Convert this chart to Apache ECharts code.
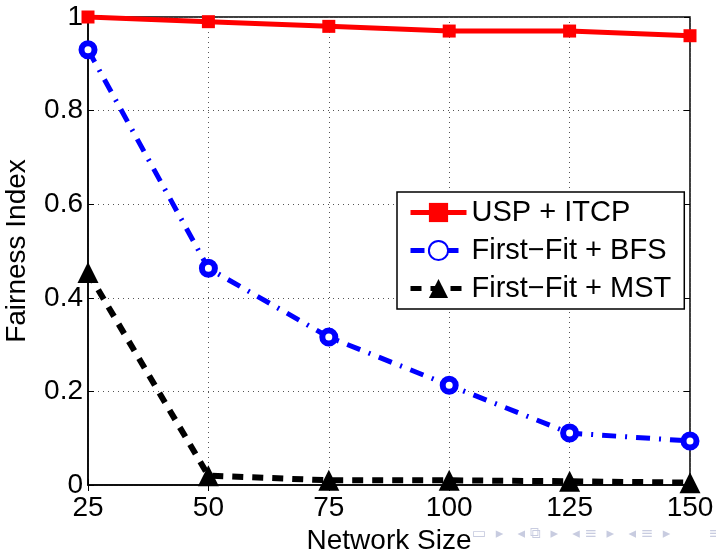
<!DOCTYPE html>
<html>
<head>
<meta charset="utf-8">
<script src="https://cdn.jsdelivr.net/npm/echarts@6/dist/echarts.min.js"></script>
<style>
  html, body { margin: 0; padding: 0; background: #fff; }
  #chart { width: 716px; height: 549px; }
</style>
</head>
<body>
<div id="chart"></div>
<script>
// network sizes on the x axis
var networkSizes = [25, 50, 75, 100, 125, 150];

// fairness index for each approach
var uspItcp = [1.0, 0.99, 0.98, 0.97, 0.97, 0.96];
var firstFitBfs = [0.93, 0.463, 0.316, 0.213, 0.111, 0.094];
var firstFitMst = [0.454, 0.02, 0.01, 0.01, 0.008, 0.005];

function pairs(values) {
    return networkSizes.map(function (x, i) { return [x, values[i]]; });
}

var font = 'Liberation Sans, Arial, Helvetica, sans-serif';

var chart = echarts.init(document.getElementById('chart'));

// ticks on all four sides, like a matlab box
var tickStyle = { show: true, inside: true, length: 6, lineStyle: { color: '#000', width: 1 } };

chart.setOption({
    animation: false,
    backgroundColor: '#fff',
    grid: {
        left: 88, right: 26, top: 17, bottom: 64,
        outerBoundsMode: 'none',
        show: true, borderColor: '#000', borderWidth: 1.5
    },
    legend: {
        orient: 'vertical',
        left: 397,
        top: 192,
        padding: [6, 13, 6, 11],
        itemGap: 9,
        itemWidth: 56,
        itemHeight: 24,
        backgroundColor: '#fff',
        borderColor: '#000',
        borderWidth: 1.5,
        lineStyle: { width: 5 },
        textStyle: { fontFamily: font, fontSize: 29, color: '#000' },
        data: ['USP + ITCP', 'First\u2212Fit + BFS', 'First\u2212Fit + MST']
    },
    xAxis: [{
        type: 'value',
        min: 25, max: 150, interval: 25,
        name: 'Network Size',
        nameLocation: 'middle',
        nameGap: 38,
        nameTextStyle: { fontFamily: font, fontSize: 28, color: '#000' },
        axisLine: { show: true, lineStyle: { color: '#000', width: 1.5 } },
        axisTick: tickStyle,
        axisLabel: { fontFamily: font, fontSize: 28, color: '#000', margin: 9 },
        splitLine: { show: true, lineStyle: { color: '#555', type: [1, 4], width: 1 } }
    }, {
        type: 'value', position: 'top',
        min: 25, max: 150, interval: 25,
        axisLine: { show: false },
        axisTick: tickStyle,
        axisLabel: { show: false },
        splitLine: { show: false }
    }],
    yAxis: [{
        type: 'value',
        min: 0, max: 1, interval: 0.2,
        name: 'Fairness Index',
        nameLocation: 'middle',
        nameGap: 57,
        nameTextStyle: { fontFamily: font, fontSize: 28, color: '#000' },
        axisLine: { show: true, lineStyle: { color: '#000', width: 1.5 } },
        axisTick: tickStyle,
        axisLabel: { fontFamily: font, fontSize: 28, color: '#000', margin: 5 },
        splitLine: { show: true, lineStyle: { color: '#555', type: [1, 4], width: 1 } }
    }, {
        type: 'value', position: 'right',
        min: 0, max: 1, interval: 0.2,
        axisLine: { show: false },
        axisTick: tickStyle,
        axisLabel: { show: false },
        splitLine: { show: false }
    }],
    series: [{
        name: 'USP + ITCP',
        type: 'line',
        data: pairs(uspItcp),
        symbol: 'rect',
        symbolSize: 13,
        itemStyle: { color: '#ff0000' },
        lineStyle: { color: '#ff0000', width: 5 },
        z: 4
    }, {
        name: 'First\u2212Fit + BFS',
        type: 'line',
        data: pairs(firstFitBfs),
        symbol: 'circle',
        symbolSize: 13,
        itemStyle: { color: '#fff', borderColor: '#0000ff', borderWidth: 6 },
        lineStyle: { color: '#0000ff', width: 5, type: [14, 9, 2, 9] },
        z: 3
    }, {
        name: 'First\u2212Fit + MST',
        type: 'line',
        data: pairs(firstFitMst),
        symbol: 'triangle',
        symbolSize: 21,
        itemStyle: { color: '#000' },
        lineStyle: { color: '#000', width: 6, type: [11, 9] },
        z: 2
    }],
    graphic: [{
        type: 'text',
        left: 472,
        top: 527,
        style: {
            text: '\u25AD  \u25B8   \u25C2 \u29C9  \u25B8   \u25C2 \u2261  \u25B8   \u25C2 \u2261  \u25B8        \u2261',
            fontFamily: 'DejaVu Sans, sans-serif',
            fontSize: 15,
            fill: '#c8cce0'
        }
    }]
});
</script>
</body>
</html>
